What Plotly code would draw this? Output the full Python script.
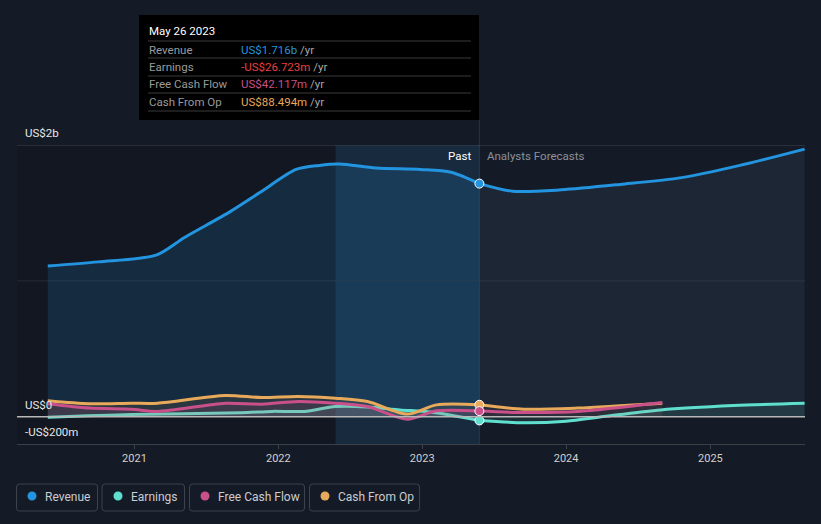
import plotly.graph_objects as go

# ---------------- data ----------------
rev_past_dates = ["2020-05-26", "2020-10-01", "2021-02-25", "2021-05-08", "2021-09-01", "2021-11-15",
                  "2022-02-15", "2022-04-15", "2022-06-05", "2022-09-05", "2022-12-28", "2023-03-15", "2023-05-26"]
rev_past = [1.11e9, 1.14e9, 1.19e9, 1.32e9, 1.51e9, 1.65e9, 1.82e9, 1.85e9, 1.86e9, 1.83e9, 1.82e9, 1.80e9, 1.716e9]
rev_fc_dates = ["2023-05-26", "2023-08-18", "2023-12-20", "2024-05-18", "2024-10-20", "2025-03-17", "2025-08-28"]
rev_fc = [1.716e9, 1.66e9, 1.67e9, 1.71e9, 1.76e9, 1.85e9, 1.97e9]

earn_past_dates = ["2020-05-26", "2020-12-24", "2021-09-27", "2021-12-16", "2022-03-08", "2022-05-26",
                   "2022-08-15", "2022-11-05", "2023-01-22", "2023-05-26"]
earn_past = [-3e6, 17e6, 30e6, 40e6, 40e6, 76e6, 73e6, 51e6, 35e6, -26.723e6]
earn_fc_dates = ["2023-05-26", "2023-09-16", "2024-01-01", "2024-04-05", "2024-08-28", "2025-03-01", "2025-08-28"]
earn_fc = [-26.723e6, -44e6, -32e6, 2e6, 51e6, 83e6, 100e6]

cf_past_dates = ["2020-05-26", "2020-09-09", "2020-12-24", "2021-02-28", "2021-08-19", "2021-11-20",
                 "2022-02-20", "2022-05-26", "2022-08-15", "2022-11-24", "2023-02-06", "2023-05-26"]
fcf_past = [96e6, 64e6, 56e6, 40e6, 100e6, 93e6, 113e6, 100e6, 76e6, -17e6, 44e6, 42.117e6]
cfo_past = [118e6, 96e6, 100e6, 100e6, 157e6, 142e6, 150e6, 137e6, 113e6, 20e6, 88e6, 88.494e6]
cf_fc_dates = ["2023-05-26", "2023-09-16", "2024-01-30", "2024-09-01"]
fcf_fc = [42.117e6, 32e6, 39e6, 105e6]
cfo_fc = [88.494e6, 56e6, 64e6, 100e6]

year_ticks = ["2021-01-01", "2022-01-01", "2023-01-01", "2024-01-01", "2025-01-01"]
year_labels = ["2021", "2022", "2023", "2024", "2025"]
now_date = "2023-05-26"
band_start = "2022-05-26"

series_names = ["Revenue", "Earnings", "Free Cash Flow", "Cash From Op"]
tooltip_values = ["US$1.716b", "-US$26.723m", "US$42.117m", "US$88.494m"]

# ---------------- style ----------------
BG = "#151b26"
C_REV = "#2394df"
C_EARN = "#5fe0cf"
C_FCF = "#c9508a"
C_CFO = "#e8a95a"
FONT = "Roboto, Noto Sans, sans-serif"

W, H = 821, 524
L, R, T, B = 17, 805, 145, 444


def px(xp):
    return (xp - L) / (R - L)


def py(yp):
    return (B - yp) / (B - T)


fig = go.Figure()


def add_line(x, y, color, fill, width=3):
    fig.add_trace(go.Scatter(x=x, y=y, mode="lines", line=dict(color=color, width=width, shape="spline", smoothing=0.8),
                             fill="tozeroy", fillcolor=fill, hoverinfo="skip", showlegend=False))


# fills + lines
add_line(rev_past_dates, rev_past, C_REV, "rgba(35,148,223,0.16)")
add_line(rev_fc_dates, rev_fc, C_REV, "rgba(90,130,170,0.11)")
add_line(earn_past_dates, earn_past, C_EARN, "rgba(95,224,207,0.10)")
add_line(earn_fc_dates, earn_fc, C_EARN, "rgba(95,224,207,0.10)")
add_line(cf_past_dates, cfo_past, C_CFO, "rgba(232,169,90,0.10)")
add_line(cf_fc_dates, cfo_fc, C_CFO, "rgba(232,169,90,0.05)")
add_line(cf_past_dates, fcf_past, C_FCF, "rgba(201,80,138,0.12)")
add_line(cf_fc_dates, fcf_fc, C_FCF, "rgba(201,80,138,0.05)")

# markers at "now"
for val, col in [(rev_past[-1], C_REV), (cfo_past[-1], C_CFO), (fcf_past[-1], C_FCF), (earn_past[-1], C_EARN)]:
    fig.add_trace(go.Scatter(x=[now_date], y=[val], mode="markers",
                             marker=dict(color=col, size=9, line=dict(color="white", width=1)),
                             hoverinfo="skip", showlegend=False))

shapes = []
# darker past region
shapes.append(dict(type="rect", xref="x", yref="paper", x0="2020-03-09", x1=band_start, y0=0, y1=1,
                   fillcolor="rgba(0,0,0,0.12)", line=dict(width=0), layer="below"))
# last year band
shapes.append(dict(type="rect", xref="x", yref="paper", x0=band_start, x1=now_date, y0=0, y1=1,
                   fillcolor="rgba(35,148,223,0.13)", line=dict(width=0), layer="below"))
# gridlines
shapes.append(dict(type="line", xref="paper", yref="y", x0=0, x1=1, y0=2e9, y1=2e9,
                   line=dict(color="#3c4350", width=1), layer="below"))
shapes.append(dict(type="line", xref="paper", yref="y", x0=0, x1=1, y0=1e9, y1=1e9,
                   line=dict(color="#262d3a", width=1), layer="below"))
shapes.append(dict(type="line", xref="paper", yref="y", x0=0, x1=1, y0=0, y1=0,
                   line=dict(color="#b8b8b8", width=1.5), layer="above"))
# now vertical line
shapes.append(dict(type="line", xref="x", yref="paper", x0=now_date, x1=now_date, y0=0, y1=py(120),
                   line=dict(color="rgba(255,255,255,0.10)", width=1), layer="below"))
# tooltip box
shapes.append(dict(type="rect", xref="paper", yref="paper", x0=px(139), x1=px(479), y0=py(120), y1=py(15),
                   fillcolor="#000000", line=dict(width=0)))
for yy in [41, 58, 76, 93, 111]:
    shapes.append(dict(type="line", xref="paper", yref="paper", x0=px(148), x1=px(471), y0=py(yy), y1=py(yy),
                       line=dict(color="#3a3a3a", width=1)))


def rounded_rect(x0, y0, x1, y1, r=3):
    pts = f"M {px(x0 + r)},{py(y0)} L {px(x1 - r)},{py(y0)} Q {px(x1)},{py(y0)} {px(x1)},{py(y0 + r)} " \
          f"L {px(x1)},{py(y1 - r)} Q {px(x1)},{py(y1)} {px(x1 - r)},{py(y1)} " \
          f"L {px(x0 + r)},{py(y1)} Q {px(x0)},{py(y1)} {px(x0)},{py(y1 - r)} " \
          f"L {px(x0)},{py(y0 + r)} Q {px(x0)},{py(y0)} {px(x0 + r)},{py(y0)} Z"
    return pts


legend_boxes = [(16.5, 97.5), (102, 184.5), (189.5, 304.5), (309.5, 419.5)]
legend_dots = [32, 118, 205, 325]
legend_text_x = [42.5, 128.5, 215.5, 335.5]
legend_colors = [C_REV, C_EARN, C_FCF, C_CFO]
annotations = []
for (bx0, bx1), dx, tx, col, name in zip(legend_boxes, legend_dots, legend_text_x, legend_colors, series_names):
    shapes.append(dict(type="path", xref="paper", yref="paper", path=rounded_rect(bx0, 484, bx1, 511),
                       line=dict(color="#3d434d", width=1), fillcolor="rgba(0,0,0,0)"))
    shapes.append(dict(type="circle", xref="paper", yref="paper", x0=px(dx - 4.5), x1=px(dx + 4.5),
                       y0=py(496 + 4.5), y1=py(496 - 4.5), fillcolor=col, line=dict(width=0)))
    annotations.append(dict(xref="paper", yref="paper", x=px(tx), y=py(496.5), xanchor="left", yanchor="middle",
                            text=name, showarrow=False, font=dict(color="#c9ccd1", size=12, family=FONT)))

# y labels
for val, txt in [(2e9, "US$2b"), (0, "US$0"), (-2e8, "-US$200m")]:
    annotations.append(dict(xref="paper", yref="y", x=px(22.5), y=val, xanchor="left", yanchor="bottom", yshift=3,
                            text=txt, showarrow=False, font=dict(color="#e6e6e6", size=11.5, family=FONT)))

# Past / forecasts labels
annotations.append(dict(xref="x", yref="paper", x=now_date, y=py(156), xanchor="right", yanchor="middle", xshift=-6,
                        text="Past", showarrow=False, font=dict(color="#ffffff", size=11.5, family=FONT)))
annotations.append(dict(xref="x", yref="paper", x=now_date, y=py(156), xanchor="left", yanchor="middle", xshift=6,
                        text="Analysts Forecasts", showarrow=False, font=dict(color="#8b9099", size=11.5, family=FONT)))

# tooltip text
annotations.append(dict(xref="paper", yref="paper", x=px(146.5), y=py(31), xanchor="left", yanchor="middle",
                        text="May 26 2023", showarrow=False, font=dict(color="#ffffff", size=11.5, family=FONT)))
tt_colors = [C_REV, "#e8413f", C_FCF, C_CFO]
for yy, name, val, col in zip([49.5, 66.5, 84, 101.5], series_names, tooltip_values, tt_colors):
    annotations.append(dict(xref="paper", yref="paper", x=px(146.5), y=py(yy), xanchor="left", yanchor="middle",
                            text=name, showarrow=False, font=dict(color="#9a9a9a", size=11.5, family=FONT)))
    annotations.append(dict(xref="paper", yref="paper", x=px(238.5), y=py(yy), xanchor="left", yanchor="middle",
                            text=f'<span style="color:{col}">{val}</span> /yr', showarrow=False,
                            font=dict(color="#a8a8a8", size=11.5, family=FONT)))

fig.update_layout(
    width=W, height=H, autosize=False,
    margin=dict(l=L, r=W - R, t=T, b=H - B),
    paper_bgcolor=BG, plot_bgcolor=BG,
    font=dict(family=FONT, color="#cccccc"),
    showlegend=False,
    shapes=shapes,
    annotations=annotations,
    xaxis=dict(type="date", range=["2020-03-09", "2025-08-29"], tickvals=year_ticks, ticktext=year_labels,
               showgrid=False, zeroline=False, showline=True, linecolor="#3a3f48", linewidth=1,
               ticks="outside", ticklen=4, tickcolor="#3a3f48", tickfont=dict(color="#d0d0d0", size=11),
               fixedrange=True),
    yaxis=dict(range=[-2e8, 2e9], showticklabels=False, showgrid=False, zeroline=False, fixedrange=True),
)

fig.write_html("out.html", config={"displayModeBar": False},
               post_script="document.body.style.margin='0';document.body.style.padding='0';"
                           "document.body.style.background='#151b26';document.body.style.overflow='hidden';")
